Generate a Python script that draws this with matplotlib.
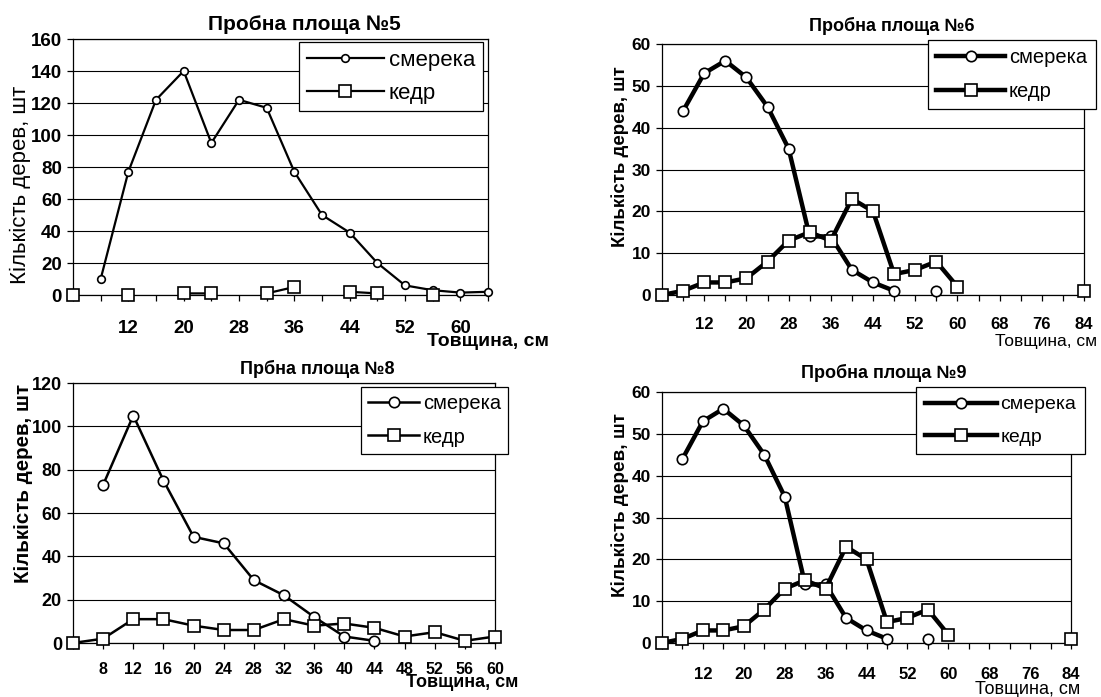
import numpy as np
import matplotlib
matplotlib.use("Agg")
from matplotlib import pyplot as plt

plt.rcParams['font.family'] = ['Liberation Sans', 'DejaVu Sans']

nan = np.nan

# Пробна площа №5
cats_5 = [4, 8, 12, 16, 20, 24, 28, 32, 36, 40, 44, 48, 52, 56, 60, 64]
smereka_5 = [nan, 10, 77, 122, 140, 95, 122, 117, 77, 50, 39, 20, 6, 3, 1.5, 2]
kedr_5 = [0, nan, 0, nan, 1, 1, nan, 1, 5, nan, 2, 1, nan, 0, nan, nan]
shown_5 = [12, 20, 28, 36, 44, 52, 60]

# Пробна площа №6
cats_6 = [4, 8, 12, 16, 20, 24, 28, 32, 36, 40, 44, 48, 52, 56, 60, 64, 68, 72, 76, 80, 84]
smereka_6 = [nan, 44, 53, 56, 52, 45, 35, 14, 14, 6, 3, 1, nan, 1, nan, nan, nan, nan, nan, nan, nan]
kedr_6 = [0, 1, 3, 3, 4, 8, 13, 15, 13, 23, 20, 5, 6, 8, 2, nan, nan, nan, nan, nan, 1]
shown_6 = [12, 20, 28, 36, 44, 52, 60, 68, 76, 84]

# Прбна площа №8
cats_8 = [4, 8, 12, 16, 20, 24, 28, 32, 36, 40, 44, 48, 52, 56, 60]
smereka_8 = [nan, 73, 105, 75, 49, 46, 29, 22, 12, 3, 1, nan, nan, nan, nan]
kedr_8 = [0, 2, 11, 11, 8, 6, 6, 11, 8, 9, 7, 3, 5, 1, 3]
shown_8 = [8, 12, 16, 20, 24, 28, 32, 36, 40, 44, 48, 52, 56, 60]

# Пробна площа №9
cats_9 = [4, 8, 12, 16, 20, 24, 28, 32, 36, 40, 44, 48, 52, 56, 60, 64, 68, 72, 76, 80, 84]
smereka_9 = [nan, 44, 53, 56, 52, 45, 35, 14, 14, 6, 3, 1, nan, 1, nan, nan, nan, nan, nan, nan, nan]
kedr_9 = [0, 1, 3, 3, 4, 8, 13, 15, 13, 23, 20, 5, 6, 8, 2, nan, nan, nan, nan, nan, 1]
shown_9 = [12, 20, 28, 36, 44, 52, 60, 68, 76, 84]

W, H = 1101, 697
fig = plt.figure(figsize=(W / 100, H / 100), dpi=100)


def fx(x):
    return x / W


def fy(y):
    return 1 - y / H


def panel(box, cats, smereka, kedr, ymax, ystep, shown, lw, ms, fs_x, fs_y, pad_x, leg_pos, leg_fs, leg_sp):
    """
    Draws one Excel-style line chart; box is (left, top, right, bottom) in pixels.
    leg_sp = (handlelength, borderpad, labelspacing) of the legend.
    """
    left, top, right, bottom = box
    ax = fig.add_axes([fx(left), fy(bottom), (right - left) / W, (bottom - top) / H])
    x = np.arange(len(cats))
    l1, = ax.plot(x, smereka, color='black', lw=lw, marker='o', ms=ms[0],
                  mfc='white', mec='black', mew=1.2, clip_on=False, zorder=3)
    l2, = ax.plot(x, kedr, color='black', lw=lw, marker='s', ms=ms[1],
                  mfc='white', mec='black', mew=1.2, clip_on=False, zorder=4)
    ax.set_xlim(0, len(cats) - 1)
    ax.set_ylim(0, ymax)
    ax.set_yticks(np.arange(0, ymax + 1, ystep))
    ax.set_xticks(x)
    ax.set_xticklabels([str(c) if c in shown else '' for c in cats])
    ax.yaxis.grid(True, color='black', lw=0.8)
    ax.set_axisbelow(True)
    for s in ax.spines.values():
        s.set_color('black')
        s.set_linewidth(0.9)
    ax.tick_params(axis='x', direction='out', length=4, width=0.9, pad=pad_x, labelsize=fs_x)
    ax.tick_params(axis='y', direction='out', length=4, width=0.9, pad=4, labelsize=fs_y)
    for t in ax.get_xticklabels() + ax.get_yticklabels():
        t.set_fontweight('bold')

    leg = ax.legend([l1, l2], ['смерека', 'кедр'], loc='upper left',
                    bbox_to_anchor=(fx(leg_pos[0]), fy(leg_pos[1])), bbox_transform=fig.transFigure,
                    fancybox=False, edgecolor='black', framealpha=1, borderaxespad=0,
                    fontsize=leg_fs, handlelength=leg_sp[0], handletextpad=0.2,
                    borderpad=leg_sp[1], labelspacing=leg_sp[2])
    leg.get_frame().set_linewidth(0.9)
    leg.set_zorder(10)
    return ax


panel((73, 39, 488, 295), cats_5, smereka_5, kedr_5, 160, 20, shown_5,
      1.6, (5.5, 8.5), 13.5, 13.5, 14, (299, 42), 16, (3.5, 0.34, 0.55))
panel((662, 44, 1084, 295), cats_6, smereka_6, kedr_6, 60, 10, shown_6,
      3.2, (7.5, 8.5), 12, 12.5, 12, (928, 40), 14.5, (3.4, 0.42, 0.7))
panel((73, 383, 495, 643), cats_8, smereka_8, kedr_8, 120, 20, shown_8,
      1.8, (7.5, 8.5), 11.5, 13, 10, (361, 387), 14.5, (2.5, 0.37, 0.7))
panel((662, 392, 1071, 643), cats_9, smereka_9, kedr_9, 60, 10, shown_9,
      3.2, (7.5, 8.5), 12, 12.5, 13, (916, 387), 14, (3.7, 0.45, 0.75))

# titles
fig.text(fx(304), fy(25), 'Пробна площа №5', ha='center', va='center', fontsize=15, fontweight='bold')
fig.text(fx(892), fy(26), 'Пробна площа №6', ha='center', va='center', fontsize=13, fontweight='bold')
fig.text(fx(317), fy(369), 'Прбна площа №8', ha='center', va='center', fontsize=13, fontweight='bold')
fig.text(fx(884), fy(373), 'Пробна площа №9', ha='center', va='center', fontsize=13, fontweight='bold')

# x labels
fig.text(fx(488), fy(333), 'Товщина, см', ha='center', va='top', fontsize=14, fontweight='bold')
fig.text(fx(1046), fy(334), 'Товщина, см', ha='center', va='top', fontsize=12.5)
fig.text(fx(462), fy(674), 'Товщина, см', ha='center', va='top', fontsize=13, fontweight='bold')
fig.text(fx(1028), fy(681), 'Товщина, см', ha='center', va='top', fontsize=13)

# y labels
fig.text(fx(20), fy(185), 'Кількість дерев, шт', ha='center', va='center', rotation=90, fontsize=16)
fig.text(fx(620), fy(157), 'Кількість дерев, шт', ha='center', va='center', rotation=90, fontsize=13.4, fontweight='bold')
fig.text(fx(24), fy(483), 'Кількість дерев, шт', ha='center', va='center', rotation=90, fontsize=14.8, fontweight='bold')
fig.text(fx(620), fy(505), 'Кількість дерев, шт', ha='center', va='center', rotation=90, fontsize=13.6, fontweight='bold')

plt.savefig('out.png', dpi=100)
